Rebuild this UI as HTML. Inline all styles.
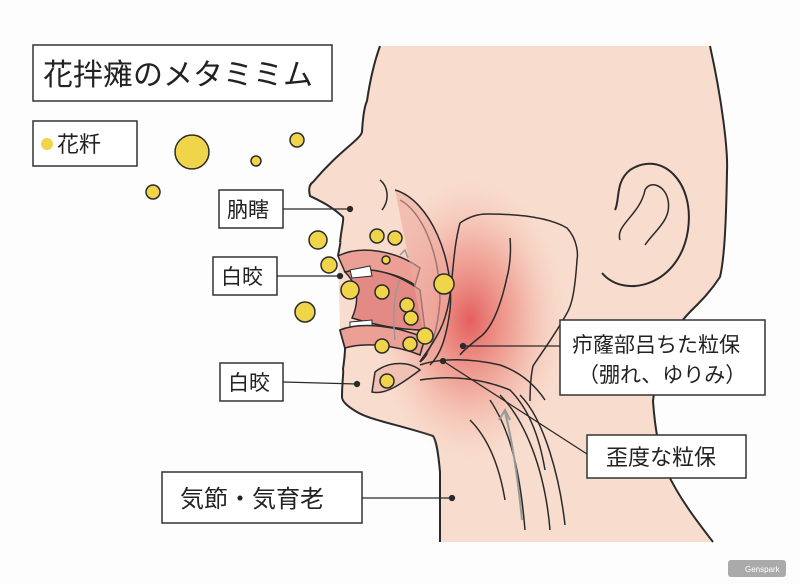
<!DOCTYPE html>
<html><head><meta charset="utf-8"><style>
body{margin:0;background:#fdfdfd;}
svg{display:block}
text{font-family:"Liberation Sans","Noto Sans CJK JP",sans-serif;fill:#222}
</style></head><body>
<svg width="800" height="584" viewBox="0 0 800 584" xmlns="http://www.w3.org/2000/svg">
<defs>
<radialGradient id="red" cx="0.5" cy="0.5" r="0.5">
<stop offset="0" stop-color="#e04848" stop-opacity="0.85"/>
<stop offset="0.5" stop-color="#ea7a70" stop-opacity="0.5"/>
<stop offset="1" stop-color="#f4b8a8" stop-opacity="0"/>
</radialGradient>
</defs>
<rect width="800" height="584" fill="#fdfdfd"/>
<!-- head fill -->
<path d="M380 46 L710 46 C722 100 728 150 727 171 C726 230 724 260 720 277 C705 300 690 310 683 320 C668 350 655 380 653 401 C655 430 660 455 667 472 C680 500 700 525 713 542 L440 542 L440 472 C438 450 436 440 433 436 C400 425 370 420 357 412 C345 405 342 400 342 397 C342 380 344 372 343 369 C345 355 345 350 345 348 L340 330 L338 256 C340 245 341 240 340 242 C342 225 344 220 343 217 C330 205 318 200 310 196 C308 188 310 184 313 182 C340 150 360 140 362 132 C363 115 365 105 367 101 C370 80 375 60 380 46 Z" fill="#f8dccd"/>
<!-- outlines -->
<path d="M710 46 C722 100 728 150 727 171 C726 230 724 260 720 277 C705 300 690 310 683 320 C668 350 655 380 653 401 C655 430 660 455 667 472 C680 500 700 525 713 542" fill="none" stroke="#2a2a2a" stroke-width="2"/>
<path d="M440 542 L440 472 C438 450 436 440 433 436 C400 425 370 420 357 412 C345 405 342 400 342 397 C342 380 344 372 343 369 C345 355 345 350 345 348 L340 330 M338 256 C340 245 341 240 340 242 C342 225 344 220 343 217 C330 205 318 200 310 196 C308 188 310 184 313 182 C340 150 360 140 362 132 C363 115 365 105 367 101 C370 80 375 60 380 46" fill="none" stroke="#2a2a2a" stroke-width="2"/>
<ellipse cx="470" cy="320" rx="95" ry="140" fill="url(#red)"/>
<!-- mouth -->
<path d="M338 256 C360 245 395 250 420 268 L415 285 C395 272 370 268 345 272 Z" fill="#ec9f95" stroke="#2a2a2a" stroke-width="1.5"/>
<path d="M345 272 C370 266 395 272 420 290 L425 330 C400 330 375 325 352 318 C360 300 358 285 345 272 Z" fill="#e48a84" stroke="#2a2a2a" stroke-width="1.5"/>
<path d="M350 270 L370 266 L372 276 L352 278 Z" fill="#fff" stroke="#2a2a2a" stroke-width="1"/>
<path d="M350 322 L372 320 L372 330 L350 330 Z" fill="#fff" stroke="#2a2a2a" stroke-width="1"/>
<path d="M340 330 C360 322 395 325 425 338 L420 355 C395 345 365 342 345 348 Z" fill="#ec9f95" stroke="#2a2a2a" stroke-width="1.5"/>
<path d="M400 200 C420 210 440 250 440 300 C438 330 430 355 420 362" fill="none" stroke="#2a2a2a" stroke-width="1.5"/>
<path d="M395 190 C430 200 455 260 450 310 C446 340 440 355 430 365" fill="#eeaaa0" fill-opacity="0.6" stroke="#2a2a2a" stroke-width="1.5"/>
<path d="M380 180 C388 186 390 200 382 210" fill="none" stroke="#2a2a2a" stroke-width="1.5"/>
<path d="M400 280 C395 290 392 310 395 340" fill="none" stroke="#999" stroke-width="1.5"/>
<path d="M400 255 L405 250 L408 258" fill="none" stroke="#999" stroke-width="1.5"/>
<!-- pharynx -->
<path d="M460 223 C470 216 480 214 487 214 C520 214 550 218 567 228 C578 240 578 255 577 260 C575 290 572 305 567 313 C555 335 540 355 533 366 C530 380 530 395 530 401" fill="none" stroke="#2a2a2a" stroke-width="1.5"/>
<path d="M460 223 C450 260 455 300 440 330 C430 350 420 360 420 362" fill="none" stroke="#2a2a2a" stroke-width="1.5"/>
<path d="M510 238 C512 260 507 277 507 277 C500 310 490 330 480 337 C470 345 462 352 460 355" fill="none" stroke="#2a2a2a" stroke-width="1.5"/>
<path d="M420 365 C440 358 470 358 500 365 C520 372 535 385 545 400" fill="none" stroke="#2a2a2a" stroke-width="1.5"/>
<path d="M420 380 C450 375 480 378 510 390 C530 410 540 440 545 470" fill="none" stroke="#2a2a2a" stroke-width="1.5"/>
<path d="M375 372 C390 360 410 362 420 370 C400 385 385 395 372 392 Z" fill="#f1c2b4" stroke="#2a2a2a" stroke-width="1.5"/>
<path d="M470 420 C490 440 500 470 505 500" fill="none" stroke="#2a2a2a" stroke-width="1.5"/>
<path d="M490 400 C510 430 520 470 525 530" fill="none" stroke="#2a2a2a" stroke-width="1.5"/>
<path d="M500 395 C525 420 545 470 550 530" fill="none" stroke="#2a2a2a" stroke-width="1.5"/>
<path d="M520 395 C545 420 560 480 565 525" fill="none" stroke="#2a2a2a" stroke-width="1.5"/>
<path d="M522 520 C518 480 512 440 505 412" fill="none" stroke="#999" stroke-width="2"/>
<path d="M499 420 L505 410 L510 420" fill="none" stroke="#999" stroke-width="2"/>
<!-- ear -->
<path d="M602 273 C625 300 680 285 688 230 C695 180 660 150 630 170 C615 182 620 200 615 210" fill="none" stroke="#2a2a2a" stroke-width="2"/>
<path d="M620 240 C615 225 640 215 645 190 C650 180 665 185 668 200 C672 220 655 230 645 245" fill="none" stroke="#2a2a2a" stroke-width="1.5"/>
<!-- pollen -->
<g fill="#f0d44a" stroke="#2a2a2a" stroke-width="1.5">
<circle cx="192" cy="152" r="17"/><circle cx="153" cy="192" r="7"/><circle cx="256" cy="161" r="5"/><circle cx="297" cy="140" r="7"/>
<circle cx="318" cy="240" r="9"/><circle cx="329" cy="265" r="8"/><circle cx="350" cy="290" r="9"/><circle cx="305" cy="312" r="10"/>
<circle cx="377" cy="236" r="7"/><circle cx="395" cy="238" r="7"/><circle cx="386" cy="260" r="4"/><circle cx="444" cy="284" r="10"/>
<circle cx="382" cy="292" r="7"/><circle cx="407" cy="305" r="7"/><circle cx="411" cy="318" r="7"/><circle cx="425" cy="336" r="8"/>
<circle cx="410" cy="344" r="7"/><circle cx="382" cy="346" r="7"/><circle cx="387" cy="381" r="7"/>
</g>
<!-- boxes -->
<g fill="#fff" stroke="#333" stroke-width="1.5">
<rect x="33" y="45" width="299" height="56"/>
<rect x="33" y="121" width="104" height="45"/>
<rect x="219" y="190" width="64" height="38"/>
<rect x="213" y="257" width="64" height="38"/>
<rect x="220" y="363" width="63" height="38"/>
<rect x="162" y="472" width="200" height="51"/>
<rect x="560" y="320" width="205" height="75"/>
<rect x="587" y="435" width="159" height="43"/>
</g>
<g stroke="#2a2a2a" stroke-width="1.3" fill="#2a2a2a">
<line x1="283" y1="209" x2="350" y2="209"/><circle cx="350" cy="209" r="2.5"/>
<line x1="277" y1="276" x2="340" y2="276"/><circle cx="340" cy="276" r="2.5"/>
<line x1="283" y1="382" x2="357" y2="384"/><circle cx="357" cy="384" r="2.5"/>
<line x1="362" y1="498" x2="452" y2="498"/><circle cx="452" cy="498" r="2.5"/>
<line x1="560" y1="346" x2="463" y2="346"/><circle cx="463" cy="346" r="2.5"/>
<line x1="587" y1="454" x2="443" y2="361"/><circle cx="443" cy="361" r="2.5"/>
</g>
<circle cx="47" cy="144" r="6" fill="#f0d44a"/>
<text x="43" y="85" font-size="30">花拌瘫のメタミミム</text>
<text x="57" y="152" font-size="22">花粁</text>
<text x="227" y="217" font-size="21">肭瞎</text>
<text x="221" y="284" font-size="21">白晈</text>
<text x="228" y="390" font-size="21">白晈</text>
<text x="180" y="507" font-size="24">気節・気育老</text>
<text x="572" y="352" font-size="21">疖窿部吕ちた粒保</text>
<text x="578" y="382" font-size="21">（弸れ、ゆりみ）</text>
<text x="606" y="465" font-size="22">歪度な粒保</text>
<rect x="728" y="560" width="58" height="17" rx="3" fill="#aaa"/>
<text x="745" y="572" font-size="8" style="fill:#fff">Genspark</text>
</svg>
</body></html>
